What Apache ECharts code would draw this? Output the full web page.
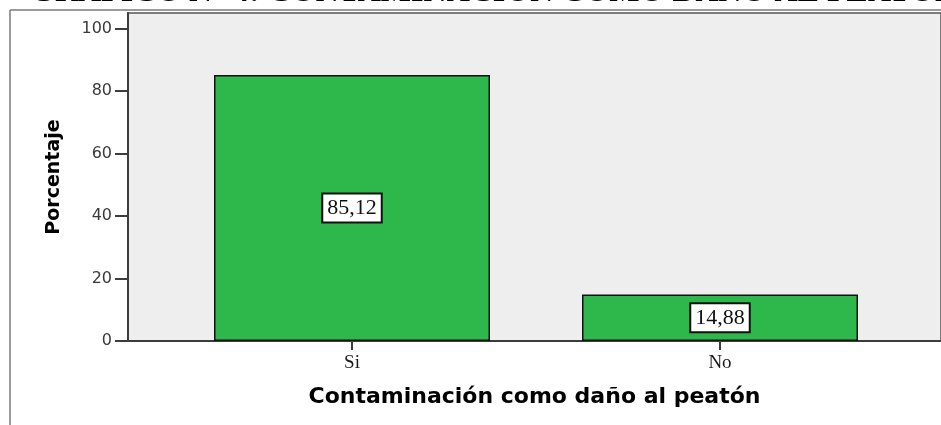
<!DOCTYPE html>
<html>
<head>
<meta charset="utf-8">
<title>Contaminación como daño al peatón</title>
<script src="https://cdn.jsdelivr.net/npm/echarts@6.0.0/dist/echarts.min.js"></script>
<style>
  html, body { margin: 0; padding: 0; background: #ffffff; }
  #curveEl { width: 941px; height: 425px; }
</style>
</head>
<body>
<div id="curveEl"></div>
<script>
// datos del gráfico
const categories = ["Si", "No"]
const percentValues = [85.12, 14.88]
const yTickValues = [0, 20, 40, 60, 80, 100]

const chartTitle = "GRÁFICO N° 4: CONTAMINACIÓN COMO DAÑO AL PEATÓN"
const xAxisTitle = "Contaminación como daño al peatón"
const yAxisTitle = "Porcentaje"

// colores
const barColor = "#2eb84c"
const plotBg = "#eeeeee"
const axisColor = "#3c3c3c"

// coma decimal
const fmtComma = (v) => v.toFixed(2).replace(".", ",")

let chartEle = document.getElementById("curveEl")
let chart = echarts.init(chartEle, null, { renderer: "canvas" })

let option = {
  backgroundColor: "#ffffff",
  animation: false,
  // marco exterior + título cortado arriba
  graphic: [
    {
      type: "line",
      shape: { x1: 10, y1: 10, x2: 950, y2: 10 },
      style: { stroke: "#7a7a7a", lineWidth: 1.5 }
    },
    {
      type: "line",
      shape: { x1: 10, y1: 10, x2: 10, y2: 440 },
      style: { stroke: "#7a7a7a", lineWidth: 1.5 }
    },
    {
      type: "text",
      x: 30,
      y: -7,
      style: {
        text: chartTitle,
        font: 'bold 32px "Liberation Serif"',
        fill: "#000000",
        verticalAlign: "middle"
      }
    }
  ],
  grid: [
    // área gris del gráfico
    {
      left: 128,
      top: 13,
      right: -5,
      bottom: 84,
      show: true,
      backgroundColor: plotBg,
      borderColor: "#555555",
      borderWidth: 1.5
    },
    // área de las barras
    {
      left: 168,
      top: 13,
      right: 37,
      bottom: 84
    }
  ],
  xAxis: [
    {
      gridIndex: 0,
      type: "value",
      min: 0,
      max: 1,
      axisLine: { show: true, lineStyle: { color: axisColor, width: 2 } },
      axisTick: { show: false },
      axisLabel: { show: false },
      splitLine: { show: false },
      name: xAxisTitle,
      nameLocation: "middle",
      nameGap: 45,
      nameTextStyle: {
        fontFamily: "DejaVu Sans",
        fontWeight: "bold",
        fontSize: 22,
        color: "#000000"
      }
    },
    {
      gridIndex: 1,
      type: "category",
      data: categories,
      axisLine: { show: false },
      axisTick: {
        show: true,
        alignWithLabel: true,
        length: 9,
        lineStyle: { color: axisColor, width: 2 }
      },
      axisLabel: {
        margin: 13,
        fontFamily: "Liberation Serif",
        fontSize: 19,
        color: "#1a1a1a"
      },
      splitLine: { show: false }
    }
  ],
  yAxis: [
    {
      gridIndex: 0,
      type: "value",
      min: 0,
      max: 105,
      axisLine: { show: true, lineStyle: { color: axisColor, width: 2 } },
      axisTick: {
        show: true,
        length: 13,
        customValues: yTickValues,
        lineStyle: { color: axisColor, width: 2 }
      },
      axisLabel: {
        customValues: yTickValues,
        margin: 16,
        fontFamily: "DejaVu Sans",
        fontSize: 16,
        color: "#3a3a3a"
      },
      splitLine: { show: false },
      name: yAxisTitle,
      nameLocation: "middle",
      nameGap: 64,
      nameTextStyle: {
        fontFamily: "DejaVu Sans",
        fontWeight: "bold",
        fontSize: 19,
        color: "#000000"
      }
    },
    {
      gridIndex: 1,
      type: "value",
      min: 0,
      max: 105,
      show: false
    }
  ],
  series: [
    {
      type: "bar",
      xAxisIndex: 1,
      yAxisIndex: 1,
      data: percentValues,
      barCategoryGap: "25%",
      itemStyle: {
        color: barColor,
        borderColor: "#111111",
        borderWidth: 1.5
      },
      label: {
        show: true,
        position: "inside",
        formatter: (p) => fmtComma(p.value),
        fontFamily: "Liberation Serif",
        fontSize: 22,
        color: "#111111",
        backgroundColor: "#ffffff",
        borderColor: "#111111",
        borderWidth: 2,
        padding: [3, 4, 2, 4]
      }
    }
  ]
}

chart.setOption(option)
</script>
</body>
</html>
